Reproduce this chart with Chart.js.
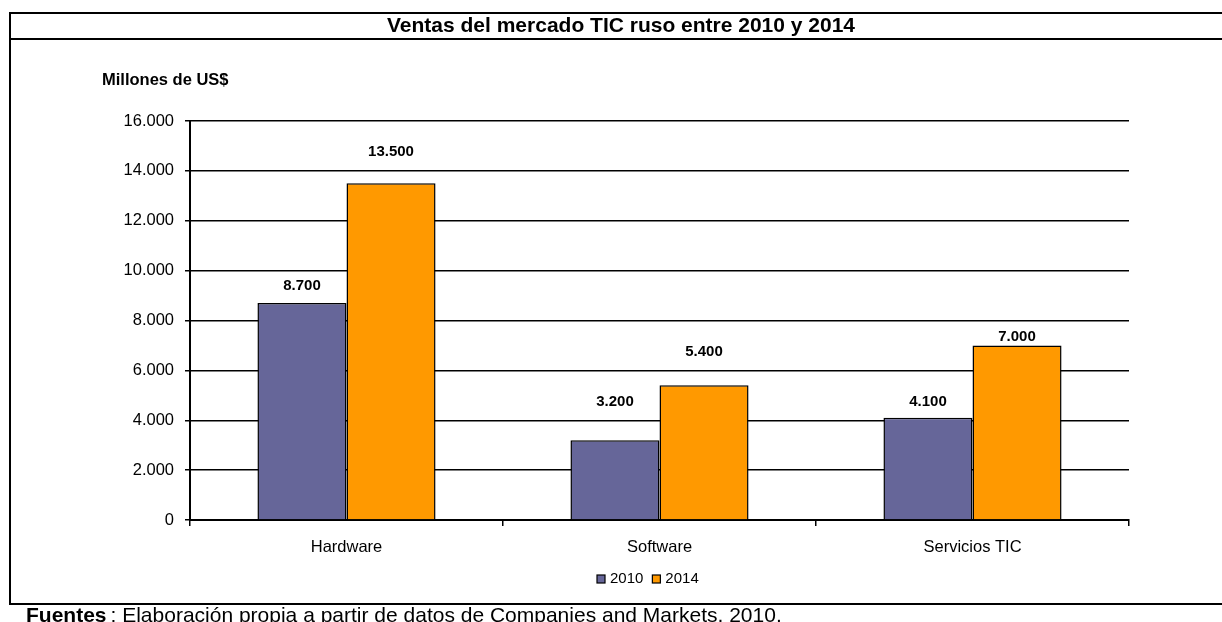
<!DOCTYPE html>
<html>
<head>
<meta charset="utf-8">
<script src="https://cdn.jsdelivr.net/npm/chart.js@4.4.1/dist/chart.umd.min.js"></script>
<style>
  html, body { margin: 0; padding: 0; background: #fff; }
  #wrap { width: 1222px; height: 622px; position: relative; }
</style>
</head>
<body>
<div id="wrap"><canvas id="chartVentas"></canvas></div>
<script>
const categories = ['Hardware', 'Software', 'Servicios TIC'];
const seriesNames = ['2010', '2014'];
const sales2010 = [8700, 3200, 4100];
const sales2014 = [13500, 5400, 7000];
const yTickValues = [0, 2000, 4000, 6000, 8000, 10000, 12000, 14000, 16000];

const titleText = 'Ventas del mercado TIC ruso entre 2010 y 2014';
const unitText = 'Millones de US$';
const sourceBold = 'Fuentes';
const sourceRest = ': Elaboración propia a partir de datos de Companies and Markets, 2010.';

const FONT = '"Liberation Sans", Arial, sans-serif';
const fmt = v => String(v).replace(/\B(?=(\d{3})+(?!\d))/g, '.');

// label lift above each bar top (px), as placed in the original sheet
const labelLift = [[17, 38, 16], [31, 33, 9]];

const framePlugin = {
    id: 'frame',
    beforeDraw(chart) {
        const ctx = chart.ctx;
        ctx.save();
        ctx.fillStyle = '#fff';
        ctx.fillRect(0, 0, chart.width, chart.height);
        ctx.restore();
    },
    afterDraw(chart) {
        const ctx = chart.ctx;
        ctx.save();
        ctx.strokeStyle = '#000';
        ctx.lineWidth = 2;
        ctx.beginPath();
        ctx.moveTo(9, 13); ctx.lineTo(1222, 13);
        ctx.moveTo(9, 39); ctx.lineTo(1222, 39);
        ctx.moveTo(10, 12); ctx.lineTo(10, 604);
        ctx.moveTo(9, 604); ctx.lineTo(1222, 604);
        ctx.stroke();

        ctx.fillStyle = '#000';
        ctx.textBaseline = 'middle';
        ctx.textAlign = 'center';
        ctx.font = 'bold 21px ' + FONT;
        ctx.fillText(titleText, 621, 26);

        ctx.textAlign = 'left';
        ctx.font = 'bold 16.5px ' + FONT;
        ctx.fillText(unitText, 102, 80);

        ctx.textBaseline = 'alphabetic';
        ctx.font = 'bold 21px ' + FONT;
        ctx.fillText(sourceBold, 26, 622);
        const w = ctx.measureText(sourceBold).width;
        ctx.font = '21px ' + FONT;
        ctx.fillText(sourceRest, 26 + w + 4, 622);

        // legend
        ctx.font = '15px ' + FONT;
        ctx.textBaseline = 'middle';
        let x = 597;
        const y = 579;
        chart.data.datasets.forEach(ds => {
            ctx.fillStyle = ds.backgroundColor;
            ctx.fillRect(x, y - 4, 8, 8);
            ctx.lineWidth = 1.2;
            ctx.strokeStyle = '#000';
            ctx.strokeRect(x, y - 4, 8, 8);
            ctx.fillStyle = '#000';
            ctx.fillText(ds.label, x + 13, y);
            x += 13 + ctx.measureText(ds.label).width + 9;
        });
        ctx.restore();
    },
    afterDatasetsDraw(chart) {
        const ctx = chart.ctx;
        ctx.save();
        ctx.fillStyle = '#000';
        ctx.font = 'bold 15px ' + FONT;
        ctx.textAlign = 'center';
        ctx.textBaseline = 'middle';
        chart.data.datasets.forEach((ds, i) => {
            chart.getDatasetMeta(i).data.forEach((bar, j) => {
                ctx.fillText(fmt(ds.data[j]), bar.x, bar.y - labelLift[i][j]);
            });
        });
        ctx.restore();
    }
};

new Chart(document.getElementById('chartVentas'), {
    type: 'bar',
    data: {
        labels: categories,
        datasets: [
            { label: seriesNames[0], data: sales2010, backgroundColor: '#666699', borderColor: '#000', borderWidth: 1.5 },
            { label: seriesNames[1], data: sales2014, backgroundColor: '#FF9900', borderColor: '#000', borderWidth: 1.5 }
        ]
    },
    options: {
        responsive: true, maintainAspectRatio: false,
        animation: false,
        events: [],
        layout: { padding: { top: 121, left: 0, right: 93, bottom: 62 } },
        datasets: { bar: { categoryPercentage: 0.569, barPercentage: 1 } },
        plugins: {
            legend: { display: false },
            title: { display: false },
            tooltip: { enabled: false }
        },
        scales: {
            x: {
                grid: { offset: true, drawOnChartArea: false, drawTicks: true, tickLength: 6, color: '#000', lineWidth: 1.5 },
                border: { color: '#000', width: 2 },
                ticks: { color: '#000', font: { family: FONT, size: 16.5 }, padding: 12, maxRotation: 0 },
                afterFit: (s) => { s.height = 40; }
            },
            y: {
                min: 0, max: 16000,
                afterBuildTicks: (s) => { s.ticks = yTickValues.map(v => ({ value: v })); },
                grid: { color: '#000', lineWidth: 1.5, tickLength: 5 },
                border: { color: '#000', width: 2 },
                ticks: { color: '#000', font: { family: FONT, size: 16.5 }, padding: 11, callback: (v) => fmt(v) },
                afterFit: (s) => { s.width = 190; }
            }
        }
    },
    plugins: [framePlugin]
});
</script>
</body>
</html>
